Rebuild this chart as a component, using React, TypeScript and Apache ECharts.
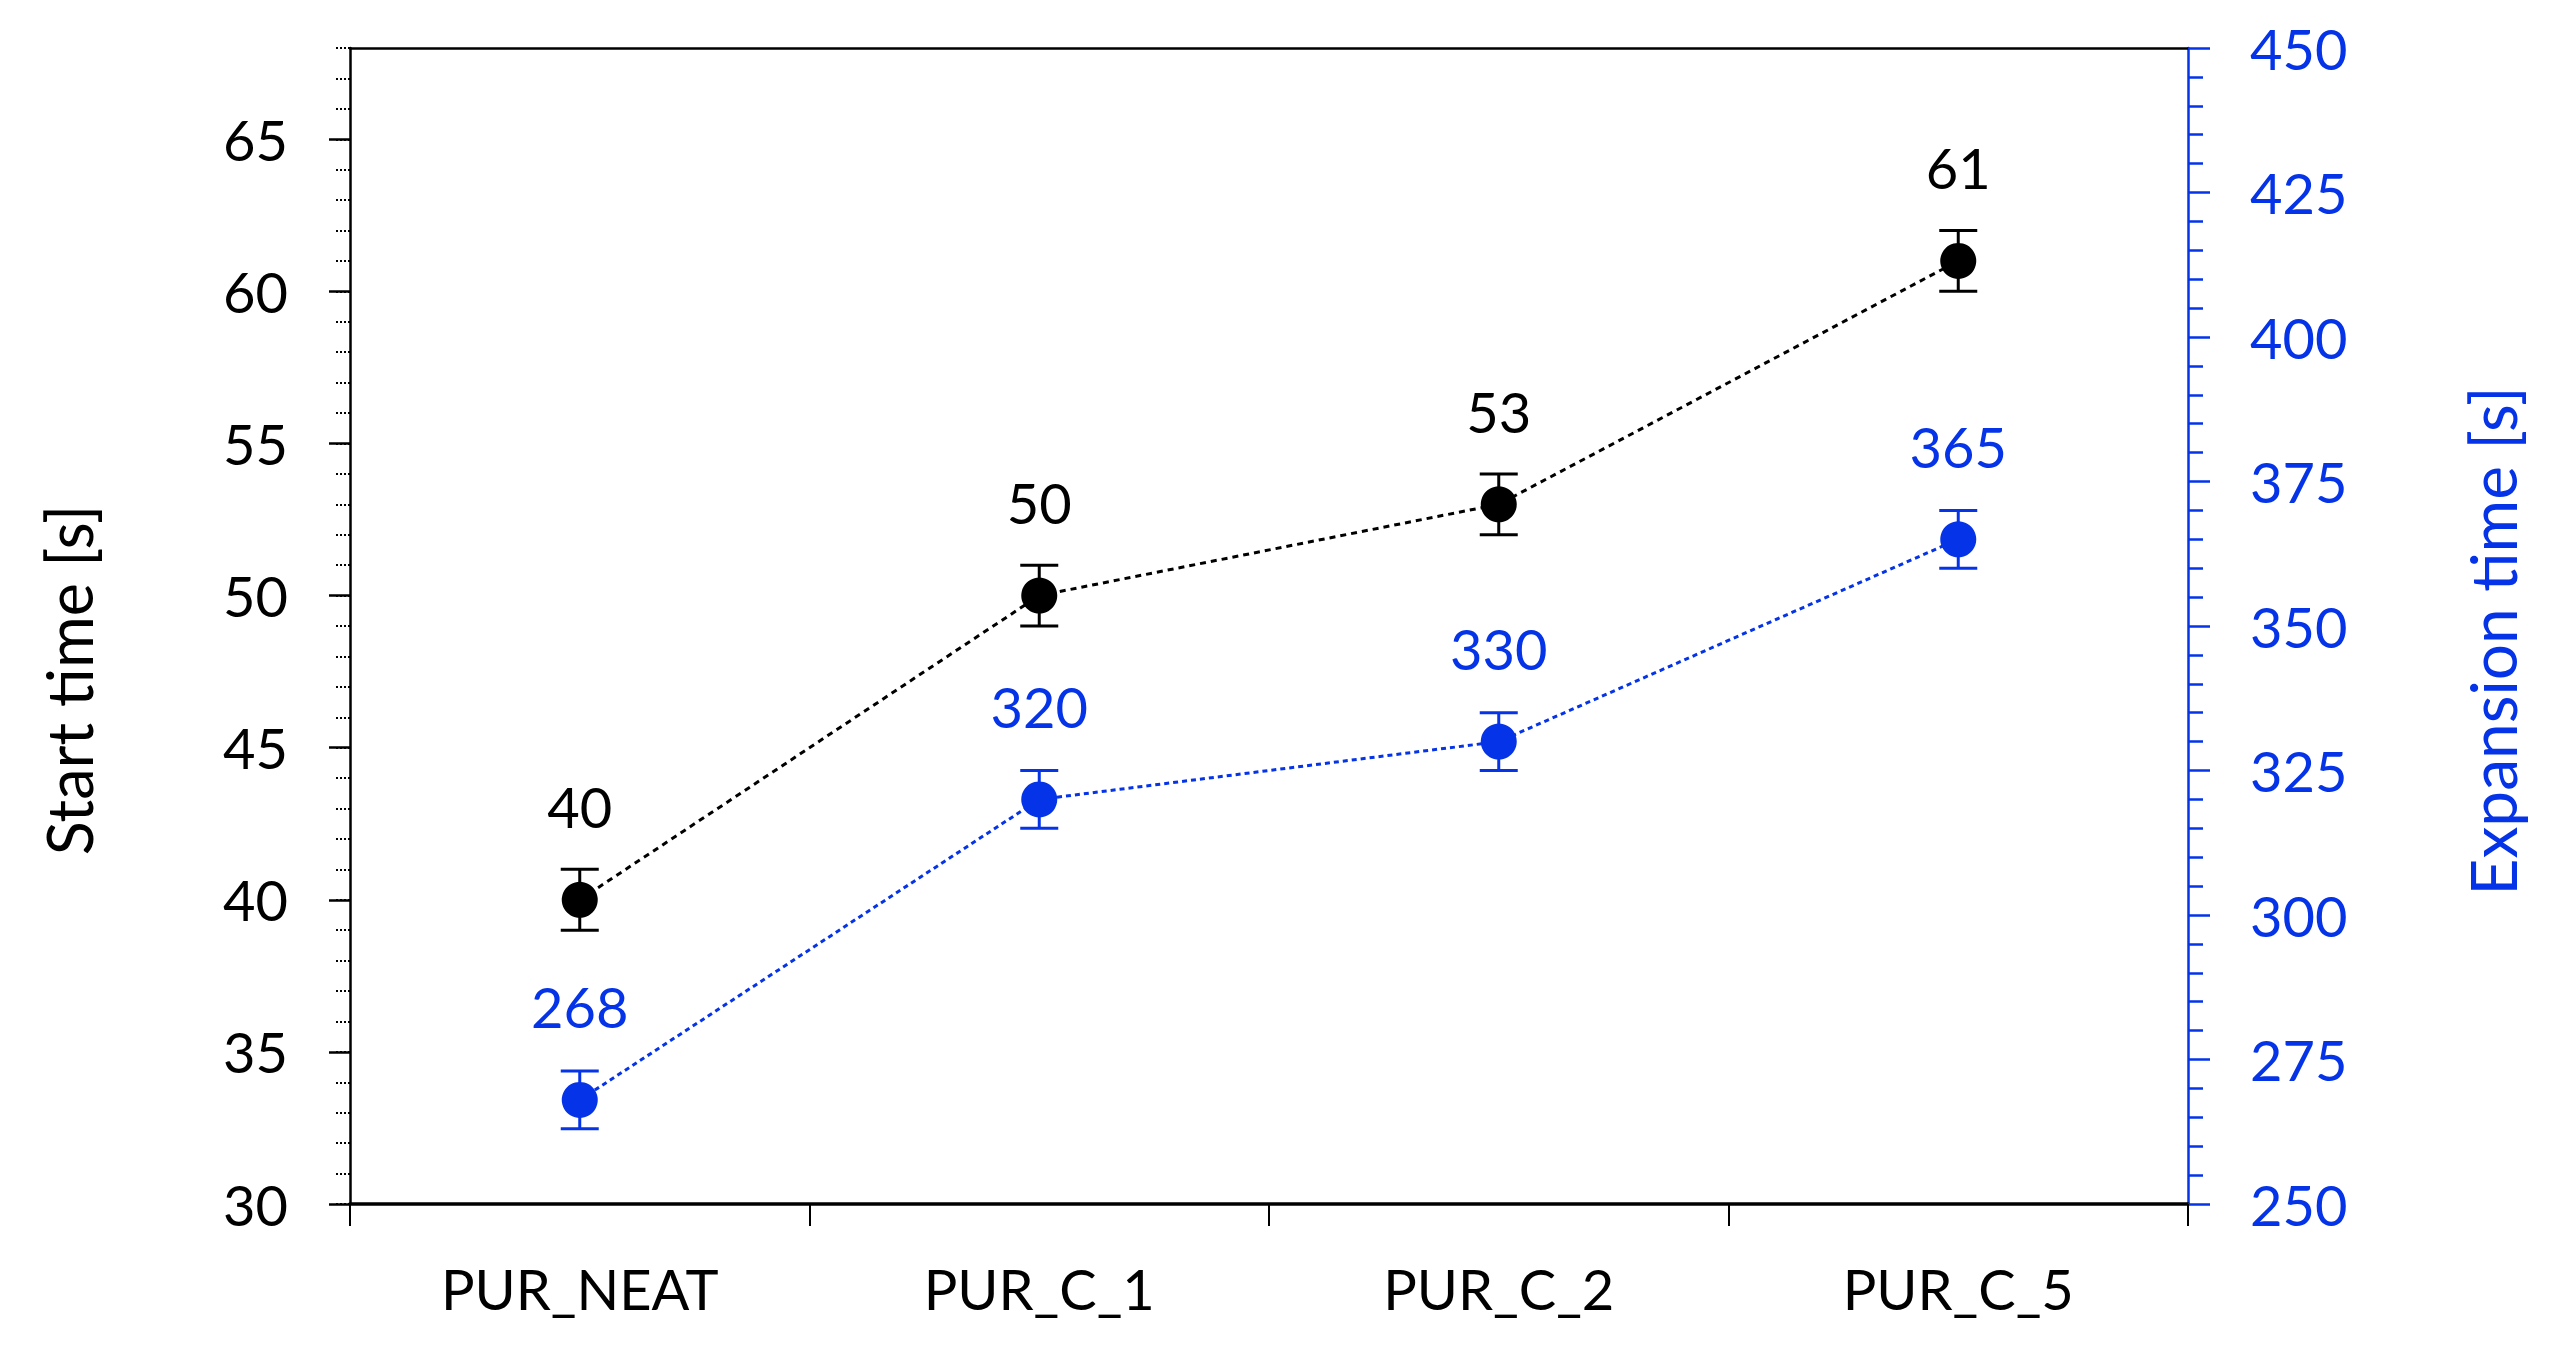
import React, { useEffect, useRef } from "react";
import * as echarts from "echarts";

const categories = ["PUR_NEAT", "PUR_C_1", "PUR_C_2", "PUR_C_5"];
const startTime = [40, 50, 53, 61];
const startErr = [1, 1, 1, 1];
const expansionTime = [268, 320, 330, 365];
const expansionErr = [5, 5, 5, 5];
const leftMajorTicks = [30, 35, 40, 45, 50, 55, 60, 65];
const rightMajorTicks = [250, 275, 300, 325, 350, 375, 400, 425, 450];

const BLUE = "#0433e8";
const BLACK = "#000000";
const FONT = "Lato";

function errorSeries(values: number[], errs: number[], color: string, yAxisIndex: number) {
  return {
    type: "custom",
    xAxisIndex: 0,
    yAxisIndex,
    z: 2,
    encode: { x: 0, y: [1, 2] },
    data: values.map((v, i) => [i, v - errs[i], v + errs[i]]),
    renderItem: (params: any, api: any) => {
      const x = api.value(0);
      const lo = api.coord([x, api.value(1)]);
      const hi = api.coord([x, api.value(2)]);
      const hw = 19;
      const style = { stroke: color, lineWidth: 3 };
      return {
        type: "group",
        children: [
          { type: "line", shape: { x1: hi[0], y1: hi[1], x2: lo[0], y2: lo[1] }, style },
          { type: "line", shape: { x1: hi[0] - hw, y1: hi[1], x2: hi[0] + hw, y2: hi[1] }, style },
          { type: "line", shape: { x1: lo[0] - hw, y1: lo[1], x2: lo[0] + hw, y2: lo[1] }, style },
        ],
      };
    },
  };
}

export default function App() {
  const ref = useRef<HTMLDivElement>(null);
  useEffect(() => {
    document.body.style.margin = "0";
    const chart = echarts.init(ref.current!, null, { renderer: "svg" });
    chart.setOption({
      animation: false,
      backgroundColor: "#ffffff",
      textStyle: { fontFamily: FONT },
      grid: { left: 350, right: 374, top: 48, bottom: 156, containLabel: false },
      xAxis: [
        {
          type: "category",
          data: categories,
          position: "bottom",
          boundaryGap: true,
          axisLine: { lineStyle: { color: BLACK, width: 3.5 } },
          axisTick: { show: true, length: 22, alignWithLabel: false, lineStyle: { color: BLACK, width: 2 } },
          axisLabel: { color: BLACK, fontSize: 56, fontFamily: FONT, margin: 56 },
          splitLine: { show: false },
        },
        {
          type: "category",
          data: categories,
          position: "top",
          axisLine: { lineStyle: { color: BLACK, width: 2.5 } },
          axisTick: { show: false },
          axisLabel: { show: false },
          splitLine: { show: false },
        },
      ],
      yAxis: [
        {
          type: "value",
          position: "left",
          min: 30,
          max: 68,
          interval: 5,
          name: "Start time [s]",
          nameLocation: "middle",
          nameGap: 250,
          nameTextStyle: { color: BLACK, fontSize: 63, fontFamily: FONT, padding: [0, 108, 0, 0] },
          axisLine: { show: true, lineStyle: { color: BLACK, width: 2.5 } },
          axisTick: { show: true, length: 21, customValues: leftMajorTicks, lineStyle: { color: BLACK, width: 2.5 } },
          axisLabel: {
            color: BLACK,
            fontSize: 56,
            fontFamily: FONT,
            margin: 62,
            formatter: (v: number) => (v % 5 === 0 ? String(v) : ""),
          },
          splitLine: { show: false },
        },
        {
          type: "value",
          position: "left",
          min: 30,
          max: 68,
          interval: 1,
          axisLine: { show: false },
          axisTick: { show: true, length: 16, lineStyle: { color: BLACK, width: 2, type: [2, 2] } },
          axisLabel: { show: false },
          splitLine: { show: false },
        },
        {
          type: "value",
          position: "right",
          min: 250,
          max: 450,
          interval: 25,
          name: "Expansion time [s]",
          nameLocation: "middle",
          nameGap: 272,
          nameTextStyle: { color: BLUE, fontSize: 64, fontFamily: FONT, padding: [0, 30, 0, 0] },
          axisLine: { show: true, lineStyle: { color: BLUE, width: 2.5 } },
          axisTick: { show: true, length: 22, customValues: rightMajorTicks, lineStyle: { color: BLUE, width: 2.5 } },
          minorTick: { show: true, splitNumber: 5, length: 15, lineStyle: { color: BLUE, width: 2.5 } },
          axisLabel: { color: BLUE, fontSize: 56, fontFamily: FONT, margin: 62 },
          splitLine: { show: false },
          minorSplitLine: { show: false },
        },
      ],
      series: [
        errorSeries(startTime, startErr, BLACK, 0),
        {
          type: "line",
          name: "Start time",
          xAxisIndex: 0,
          yAxisIndex: 0,
          data: startTime,
          z: 3,
          symbol: "circle",
          symbolSize: 36,
          itemStyle: { color: BLACK },
          lineStyle: { color: BLACK, width: 3, type: [6, 5] },
          label: { show: true, position: "top", distance: 47, color: BLACK, fontSize: 56, fontFamily: FONT },
        },
        errorSeries(expansionTime, expansionErr, BLUE, 2),
        {
          type: "line",
          name: "Expansion time",
          xAxisIndex: 0,
          yAxisIndex: 2,
          data: expansionTime,
          z: 3,
          symbol: "circle",
          symbolSize: 36,
          itemStyle: { color: BLUE },
          lineStyle: { color: BLUE, width: 3, type: [5, 4] },
          label: { show: true, position: "top", distance: 47, color: BLUE, fontSize: 56, fontFamily: FONT },
        },
      ],
    });
    return () => chart.dispose();
  }, []);
  return <div ref={ref} style={{ width: 2562, height: 1360 }} />;
}
